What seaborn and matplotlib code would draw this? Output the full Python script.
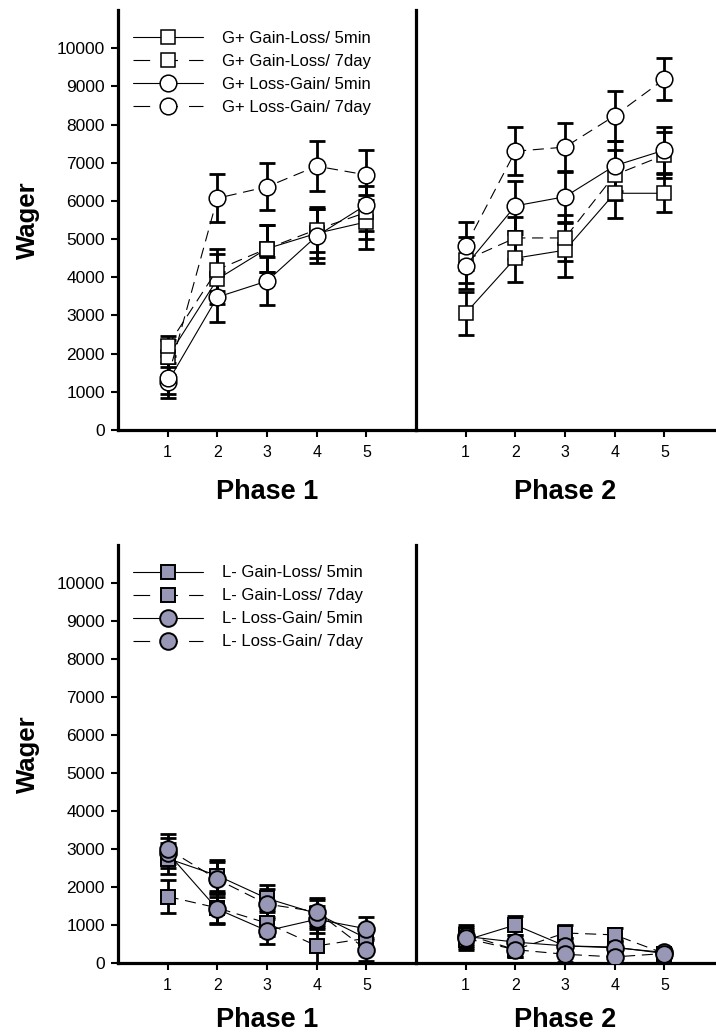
import numpy as np
import pandas as pd
import matplotlib
matplotlib.use("Agg")
import matplotlib.pyplot as plt
from matplotlib.lines import Line2D
import seaborn as sns

sns.set_style("ticks")
plt.rcParams['font.family'] = ['Liberation Sans', 'DejaVu Sans']
plt.rcParams['text.color'] = 'black'
plt.rcParams['axes.labelcolor'] = 'black'
plt.rcParams['xtick.color'] = 'black'
plt.rcParams['ytick.color'] = 'black'

trials = [1, 2, 3, 4, 5]
groups = ['Gain-Loss/ 5min', 'Gain-Loss/ 7day', 'Loss-Gain/ 5min', 'Loss-Gain/ 7day']

# G+ (top panel), phase 1
gp_gl_5min_p1 = [1900, 3950, 4750, 5150, 5450]
gp_gl_7day_p1 = [2200, 4200, 4750, 5250, 5700]
gp_lg_5min_p1 = [1250, 3480, 3900, 5080, 5900]
gp_lg_7day_p1 = [1350, 6070, 6370, 6910, 6680]
gp_gl_5min_p1_se = [450, 650, 620, 650, 700]
gp_gl_7day_p1_se = [250, 550, 620, 600, 700]
gp_lg_5min_p1_se = [400, 650, 630, 700, 700]
gp_lg_7day_p1_se = [400, 630, 620, 650, 650]

# G+ phase 2
gp_gl_5min_p2 = [3060, 4500, 4710, 6200, 6200]
gp_gl_7day_p2 = [4450, 5030, 5030, 6680, 7200]
gp_lg_5min_p2 = [4300, 5870, 6110, 6920, 7330]
gp_lg_7day_p2 = [4820, 7300, 7410, 8230, 9190]
gp_gl_5min_p2_se = [560, 630, 700, 660, 500]
gp_gl_7day_p2_se = [600, 550, 600, 650, 600]
gp_lg_5min_p2_se = [600, 650, 650, 650, 600]
gp_lg_7day_p2_se = [620, 630, 630, 650, 550]

# L- (bottom panel), phase 1
lm_gl_5min_p1 = [2750, 2300, 1700, 1300, 650]
lm_gl_7day_p1 = [1750, 1450, 1050, 450, 650]
lm_lg_5min_p1 = [2900, 1420, 850, 1150, 900]
lm_lg_7day_p1 = [3000, 2200, 1550, 1350, 350]
lm_gl_5min_p1_se = [400, 400, 350, 350, 300]
lm_gl_7day_p1_se = [430, 400, 350, 450, 300]
lm_lg_5min_p1_se = [400, 400, 350, 350, 300]
lm_lg_7day_p1_se = [400, 450, 400, 350, 300]

# L- phase 2
lm_gl_5min_p2 = [600, 1000, 450, 420, 250]
lm_gl_7day_p2 = [750, 350, 790, 740, 250]
lm_lg_5min_p2 = [700, 550, 450, 400, 280]
lm_lg_7day_p2 = [650, 350, 230, 160, 250]
lm_gl_5min_p2_se = [250, 250, 200, 180, 80]
lm_gl_7day_p2_se = [250, 200, 200, 180, 80]
lm_lg_5min_p2_se = [250, 200, 200, 180, 80]
lm_lg_7day_p2_se = [250, 200, 200, 180, 80]

yticks = list(range(0, 10001, 1000))

marker_map = {groups[0]: 's', groups[1]: 's', groups[2]: 'o', groups[3]: 'o'}
dash_map = {groups[0]: '', groups[1]: (10, 6), groups[2]: '', groups[3]: (10, 6)}
L_FACE = '#9898B6'


def draw_phase(ax, means, ses, face, mew):
    rows = []
    for g, m in zip(groups, means):
        for t, v in zip(trials, m):
            rows.append({'trial': t, 'wager': v, 'group': g})
    df = pd.DataFrame(rows)
    for m, s in zip(means, ses):
        ax.errorbar(trials, m, yerr=s, fmt='none', ecolor='black', elinewidth=2,
                    capsize=6, capthick=2, zorder=2)
    sns.lineplot(data=df, x='trial', y='wager', style='group', style_order=groups,
                 markers=marker_map, dashes=dash_map, color='black', linewidth=0.8,
                 markerfacecolor=face, markeredgecolor='black', markeredgewidth=mew,
                 errorbar=None, legend=False, ax=ax, zorder=3)
    for ln in ax.lines:
        if ln.get_marker() == 's':
            ln.set_markersize(9.5)
        elif ln.get_marker() == 'o':
            ln.set_markersize(12)
    ax.set_xlim(0, 6)
    ax.set_ylim(0, 11000)
    ax.set_xticks(trials)
    ax.set_xticklabels([str(t) for t in trials])
    ax.tick_params(axis='x', length=5, width=1.5, labelsize=11.5, pad=5.5)
    for sp in ['top', 'right']:
        ax.spines[sp].set_visible(False)
    for sp in ['left', 'bottom']:
        ax.spines[sp].set_linewidth(2.3)
        ax.spines[sp].set_color('black')
    ax.set_ylabel('')


def add_legend(ax, prefix, face, mew):
    handles = []
    for g in groups:
        h = Line2D([], [], color='black', linewidth=0.8, marker=marker_map[g],
                   markersize=9.5 if marker_map[g] == 's' else 12,
                   markerfacecolor=face, markeredgecolor='black', markeredgewidth=mew)
        if dash_map[g]:
            h.set_dashes((15, 10))
        handles.append(h)
    ax.legend(handles, [prefix + g for g in groups], loc='upper left',
              bbox_to_anchor=(0.05, 0.951), frameon=False, fontsize=12,
              handlelength=4.2, handletextpad=1.15, labelspacing=0.48,
              borderpad=0, borderaxespad=0)


fig = plt.figure(figsize=(7.16, 10.36), dpi=100)
W, H = 716, 1036


def px_axes(x0, x1, ytop, ybot):
    return fig.add_axes([x0 / W, (H - ybot) / H, (x1 - x0) / W, (ybot - ytop) / H])


panels = [
    (10, 430, 'G+ ', 'white', 1.1,
     [gp_gl_5min_p1, gp_gl_7day_p1, gp_lg_5min_p1, gp_lg_7day_p1],
     [gp_gl_5min_p1_se, gp_gl_7day_p1_se, gp_lg_5min_p1_se, gp_lg_7day_p1_se],
     [gp_gl_5min_p2, gp_gl_7day_p2, gp_lg_5min_p2, gp_lg_7day_p2],
     [gp_gl_5min_p2_se, gp_gl_7day_p2_se, gp_lg_5min_p2_se, gp_lg_7day_p2_se], -0.117),
    (545, 963, 'L- ', L_FACE, 1.4,
     [lm_gl_5min_p1, lm_gl_7day_p1, lm_lg_5min_p1, lm_lg_7day_p1],
     [lm_gl_5min_p1_se, lm_gl_7day_p1_se, lm_lg_5min_p1_se, lm_lg_7day_p1_se],
     [lm_gl_5min_p2, lm_gl_7day_p2, lm_lg_5min_p2, lm_lg_7day_p2],
     [lm_gl_5min_p2_se, lm_gl_7day_p2_se, lm_lg_5min_p2_se, lm_lg_7day_p2_se], -0.105),
]

for ytop, ybot, prefix, face, mew, m1, s1, m2, s2, xlab_y in panels:
    ax1 = px_axes(118, 416, ytop, ybot)
    ax2 = px_axes(416, 716, ytop, ybot)
    draw_phase(ax1, m1, s1, face, mew)
    draw_phase(ax2, m2, s2, face, mew)
    ax2.set_xlim(0, 300 / 298 * 6)

    ax1.set_yticks(yticks)
    ax1.set_yticklabels([str(v) for v in yticks])
    ax1.tick_params(axis='y', length=5, width=1.5, labelsize=12.5, pad=4.5)
    ax2.tick_params(axis='y', left=False, labelleft=False)

    ax1.set_ylabel('Wager', fontsize=18.5, fontweight='bold')
    ax1.yaxis.set_label_coords(-0.262, 0.5)
    ax1.set_xlabel('Phase 1', fontsize=19.5, fontweight='bold')
    ax1.xaxis.set_label_coords(0.5, xlab_y)
    ax2.set_xlabel('Phase 2', fontsize=19.5, fontweight='bold')
    ax2.xaxis.set_label_coords(0.5 * 298 / 300, xlab_y)

    add_legend(ax1, prefix, face, mew)

fig.savefig('out.png', dpi=100)
